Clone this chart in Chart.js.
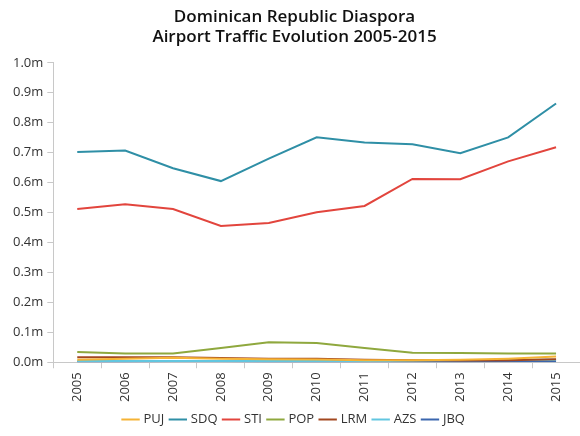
<!DOCTYPE html>
<html>
<head>
<meta charset="utf-8">
<script src="https://cdn.jsdelivr.net/npm/chart.js@4/dist/chart.umd.min.js"></script>
<style>
  html, body { margin: 0; padding: 0; background: #fff; }
  #wrap { width: 580px; height: 436px; }
</style>
</head>
<body>
<div id="wrap"><canvas id="chart"></canvas></div>
<script>
// Passageiros por aeroporto (milhões)
const years = ['2005','2006','2007','2008','2009','2010','2011','2012','2013','2014','2015']
const puj = [0.008, 0.012, 0.015, 0.012, 0.010, 0.009, 0.007, 0.007, 0.008, 0.012, 0.019]
const sdq = [0.702, 0.707, 0.648, 0.605, 0.680, 0.751, 0.734, 0.728, 0.698, 0.751, 0.864]
const sti = [0.512, 0.528, 0.512, 0.455, 0.465, 0.501, 0.522, 0.612, 0.611, 0.671, 0.718]
const pop = [0.034, 0.029, 0.029, 0.048, 0.067, 0.064, 0.048, 0.032, 0.031, 0.029, 0.029]
const lrm = [0.017, 0.017, 0.017, 0.014, 0.012, 0.012, 0.008, 0.007, 0.006, 0.007, 0.010]
const azs = [0.004, 0.004, 0.004, 0.004, 0.004, 0.004, 0.004, 0.005, 0.007, 0.008, 0.008]
const jbq = [0.002, 0.002, 0.003, 0.003, 0.002, 0.002, 0.002, 0.002, 0.002, 0.003, 0.003]

const yTicks = [0, 0.1, 0.2, 0.3, 0.4, 0.5, 0.6, 0.7, 0.8, 0.9, 1.0]

const series = [
  { label: 'PUJ', data: puj, color: '#f5b335' },
  { label: 'SDQ', data: sdq, color: '#2f8fa6' },
  { label: 'STI', data: sti, color: '#e2453d' },
  { label: 'POP', data: pop, color: '#8fa83e' },
  { label: 'LRM', data: lrm, color: '#a2471f' },
  { label: 'AZS', data: azs, color: '#62c6e0' },
  { label: 'JBQ', data: jbq, color: '#3b66ae' }
]

const font = "'Open Sans', 'DejaVu Sans', sans-serif"

new Chart(document.getElementById('chart'), {
  type: 'line',
  data: {
    labels: years,
    datasets: series.map(s => ({
      label: s.label,
      data: s.data,
      borderColor: s.color,
      backgroundColor: s.color,
      borderWidth: 2,
      pointRadius: 0,
      tension: 0
    }))
  },
  options: {
    responsive: true,
    maintainAspectRatio: false,
    animation: false,
    layout: { padding: { left: 9, right: 0, top: 0, bottom: 0 } },
    plugins: {
      title: {
        display: true,
        text: ['Dominican Republic Diaspora', 'Airport Traffic Evolution 2005-2015'],
        color: '#111',
        font: { family: font, size: 17, weight: '600', lineHeight: 1.2 },
        padding: { top: 7, bottom: 15 }
      },
      legend: {
        position: 'bottom',
        labels: {
          usePointStyle: true,
          pointStyle: 'line',
          boxWidth: 18,
          padding: 7,
          color: '#333',
          font: { family: font, size: 13 }
        }
      },
      tooltip: { enabled: false }
    },
    scales: {
      x: {
        offset: true,
        grid: { display: true, drawOnChartArea: false, drawTicks: true, tickLength: 6, offset: true, color: '#c8c8c8' },
        border: { color: '#c8c8c8' },
        ticks: {
          minRotation: 90,
          maxRotation: 90,
          padding: 4,
          color: '#333',
          font: { family: font, size: 13 }
        }
      },
      y: {
        min: 0,
        max: 1.0,
        afterBuildTicks: axis => { axis.ticks = yTicks.map(v => ({ value: v })) },
        grid: { display: true, drawOnChartArea: false, drawTicks: true, tickLength: 6, color: '#c8c8c8' },
        border: { color: '#c8c8c8' },
        ticks: {
          color: '#333',
          padding: 4,
          font: { family: font, size: 13 },
          callback: v => v.toFixed(1) + 'm'
        }
      }
    }
  }
})
</script>
</body>
</html>
